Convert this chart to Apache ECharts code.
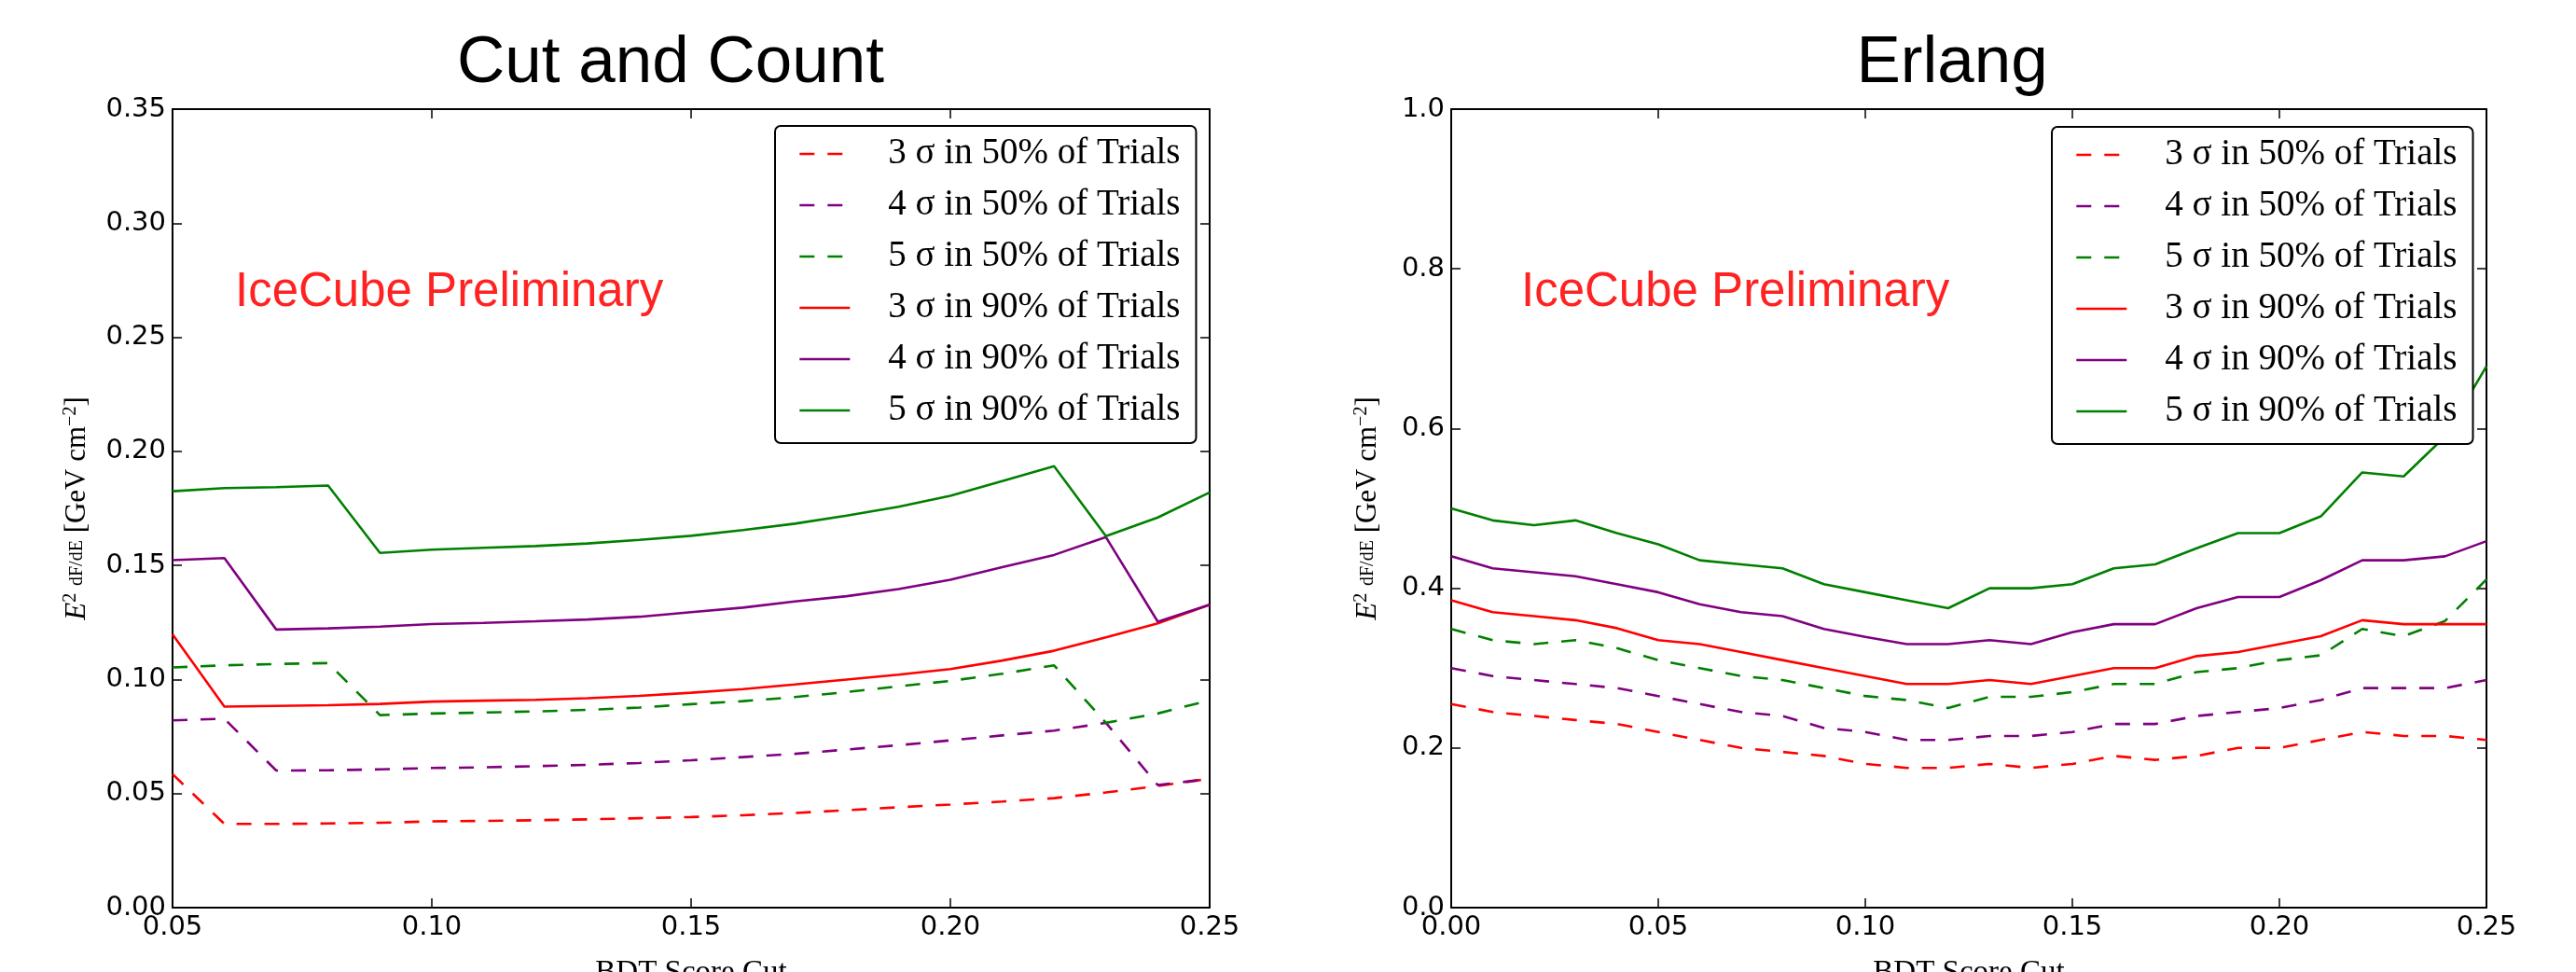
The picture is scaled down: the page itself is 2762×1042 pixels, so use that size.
<!DOCTYPE html>
<html>
<head>
<meta charset="utf-8">
<script src="https://cdn.jsdelivr.net/npm/echarts@6/dist/echarts.min.js"></script>
<style>
html,body{margin:0;padding:0;background:#fff;}
#c{width:2762px;height:1042px;}
</style>
</head>
<body>
<div id="c"></div>
<script>
// ---------- Data ----------
const seriesNames = [
  '3 σ in 50% of Trials',
  '4 σ in 50% of Trials',
  '5 σ in 50% of Trials',
  '3 σ in 90% of Trials',
  '4 σ in 90% of Trials',
  '5 σ in 90% of Trials'
];

// Cut and Count
const xCut = [0.05,0.06,0.07,0.08,0.09,0.10,0.11,0.12,0.13,0.14,0.15,0.16,0.17,0.18,0.19,0.20,0.21,0.22,0.23,0.24,0.25];
const cut3s50 = [0.0585,0.0367,0.0367,0.0369,0.0372,0.0378,0.0380,0.0383,0.0387,0.0392,0.0397,0.0405,0.0415,0.0427,0.0440,0.0452,0.0465,0.0480,0.0505,0.0533,0.0565];
const cut4s50 = [0.0821,0.0828,0.0601,0.0602,0.0606,0.0612,0.0615,0.0620,0.0626,0.0634,0.0646,0.0660,0.0674,0.0693,0.0712,0.0733,0.0755,0.0776,0.0810,0.0537,0.0565];
const cut5s50 = [0.1053,0.1062,0.1068,0.1072,0.0844,0.0851,0.0855,0.0860,0.0867,0.0877,0.0892,0.0905,0.0923,0.0945,0.0970,0.0994,0.1025,0.1062,0.0810,0.0851,0.0909];
const cut3s90 = [0.1198,0.0881,0.0884,0.0887,0.0893,0.0903,0.0907,0.0911,0.0918,0.0928,0.0942,0.0958,0.0978,0.1000,0.1021,0.1046,0.1083,0.1126,0.1185,0.1246,0.1328];
const cut4s90 = [0.1523,0.1532,0.1219,0.1224,0.1232,0.1243,0.1248,0.1255,0.1263,0.1275,0.1295,0.1315,0.1342,0.1365,0.1396,0.1437,0.1492,0.1546,0.1624,0.1253,0.1328];
const cut5s90 = [0.1825,0.1839,0.1843,0.1850,0.1555,0.1569,0.1577,0.1585,0.1596,0.1612,0.1630,0.1655,0.1683,0.1718,0.1757,0.1805,0.1870,0.1935,0.1628,0.1710,0.1820];

// Erlang
const xErl = [0.00,0.01,0.02,0.03,0.04,0.05,0.06,0.07,0.08,0.09,0.10,0.11,0.12,0.13,0.14,0.15,0.16,0.17,0.18,0.19,0.20,0.21,0.22,0.23,0.24,0.25];
const erl3s50 = [0.255,0.245,0.240,0.235,0.230,0.220,0.210,0.200,0.195,0.190,0.180,0.175,0.175,0.180,0.175,0.180,0.190,0.185,0.190,0.200,0.200,0.210,0.220,0.215,0.215,0.210];
const erl4s50 = [0.300,0.290,0.285,0.280,0.275,0.265,0.255,0.245,0.240,0.225,0.220,0.210,0.210,0.215,0.215,0.220,0.230,0.230,0.240,0.245,0.250,0.260,0.275,0.275,0.275,0.285];
const erl5s50 = [0.349,0.335,0.330,0.335,0.325,0.310,0.300,0.290,0.285,0.275,0.265,0.260,0.250,0.264,0.264,0.270,0.280,0.280,0.295,0.300,0.310,0.316,0.349,0.340,0.359,0.411];
const erl3s90 = [0.385,0.370,0.365,0.360,0.350,0.335,0.330,0.320,0.310,0.300,0.290,0.280,0.280,0.285,0.280,0.290,0.300,0.300,0.315,0.320,0.330,0.340,0.360,0.355,0.355,0.355];
const erl4s90 = [0.440,0.425,0.420,0.415,0.405,0.395,0.380,0.370,0.365,0.349,0.339,0.330,0.330,0.335,0.330,0.345,0.355,0.355,0.375,0.389,0.389,0.410,0.435,0.435,0.440,0.459];
const erl5s90 = [0.500,0.485,0.479,0.485,0.469,0.455,0.435,0.430,0.425,0.405,0.395,0.385,0.375,0.400,0.400,0.405,0.425,0.430,0.450,0.469,0.469,0.490,0.545,0.540,0.590,0.678];

const titles = ['Cut and Count', 'Erlang'];
const watermark = 'IceCube Preliminary';
const xAxisTitle = 'BDT Score Cut';

// ---------- Styles ----------
const colors = ['#ff0000', '#800080', '#008000', '#ff0000', '#800080', '#008000'];
const dashed = [true, true, true, false, false, false];
const DASH = [16, 14];
const tickFont = 'DejaVu Sans';
const serif = 'Liberation Serif';

const cutSets = [cut3s50, cut4s50, cut5s50, cut3s90, cut4s90, cut5s90];
const erlSets = [erl3s50, erl4s50, erl5s50, erl3s90, erl4s90, erl5s90];

const grids = [
  {left: 185, top: 117, width: 1112, height: 856, outerBoundsMode: 'none', containLabel: false},
  {left: 1556, top: 117, width: 1110, height: 856, outerBoundsMode: 'none', containLabel: false}
];

function mkX(gi, pos, min, max, interval, showLabel) {
  return {
    type: 'value', gridIndex: gi, position: pos, min: min, max: max, interval: interval,
    axisLine: {show: true, onZero: false, lineStyle: {color: '#000', width: 2}},
    axisTick: {show: true, inside: true, length: 10, lineStyle: {color: '#000', width: 1.5}},
    axisLabel: {show: showLabel, margin: 7, color: '#000', fontFamily: tickFont, fontSize: 29,
      formatter: v => v.toFixed(2), showMinLabel: true, showMaxLabel: true},
    splitLine: {show: false},
    name: showLabel ? xAxisTitle : '',
    nameLocation: 'middle', nameGap: 54,
    nameTextStyle: {fontFamily: serif, fontSize: 33, color: '#000', verticalAlign: 'top'}
  };
}
const yName = '{i|E}{s|2} {f|dF/dE} [GeV cm{s|−2}]';
const yRich = {
  i: {fontFamily: serif, fontStyle: 'italic', fontSize: 31, color: '#000'},
  s: {fontFamily: serif, fontSize: 20, color: '#000', verticalAlign: 'top', lineHeight: 34},
  f: {fontFamily: serif, fontSize: 20, color: '#000'}
};
function mkY(gi, pos, min, max, interval, digits, showLabel, gap) {
  return {
    type: 'value', gridIndex: gi, position: pos, min: min, max: max, interval: interval,
    axisLine: {show: true, onZero: false, lineStyle: {color: '#000', width: 2}},
    axisTick: {show: true, inside: true, length: 10, lineStyle: {color: '#000', width: 1.5}},
    axisLabel: {show: showLabel, margin: 7, color: '#000', fontFamily: tickFont, fontSize: 29,
      formatter: v => v.toFixed(digits), showMinLabel: true, showMaxLabel: true},
    splitLine: {show: false},
    name: showLabel ? yName : '',
    nameLocation: 'middle', nameRotate: 90, nameGap: gap,
    nameTextStyle: {fontFamily: serif, fontSize: 31, color: '#000', rich: yRich}
  };
}

const xAxes = [
  mkX(0, 'bottom', 0.05, 0.25, 0.05, true),
  mkX(0, 'top', 0.05, 0.25, 0.05, false),
  mkX(1, 'bottom', 0, 0.25, 0.05, true),
  mkX(1, 'top', 0, 0.25, 0.05, false)
];
const yAxes = [
  mkY(0, 'left', 0, 0.35, 0.05, 2, true, 85),
  mkY(0, 'right', 0, 0.35, 0.05, 2, false, 0),
  mkY(1, 'left', 0, 1.0, 0.2, 1, true, 72),
  mkY(1, 'right', 0, 1.0, 0.2, 1, false, 0)
];

const series = [];
[[xCut, cutSets, 0], [xErl, erlSets, 2]].forEach(([xs, sets, ai]) => {
  sets.forEach((vals, k) => {
    series.push({
      type: 'line', name: seriesNames[k], xAxisIndex: ai, yAxisIndex: ai,
      data: xs.map((x, j) => [x, vals[j]]),
      symbol: 'none', smooth: false, silent: true, animation: false,
      lineStyle: {color: colors[k], width: 2.6, type: dashed[k] ? DASH : 'solid'},
      itemStyle: {color: colors[k]}
    });
  });
});

function mkLegend(left, top) {
  return {
    left: left, top: top, orient: 'vertical', data: seriesNames,
    backgroundColor: '#fff', borderColor: '#000', borderWidth: 2, borderRadius: 6,
    padding: [8, 17, 13, 25], itemGap: 11, itemWidth: 54, itemHeight: 14,
    selectedMode: false,
    itemStyle: {opacity: 0, color: 'transparent', borderWidth: 0},
    lineStyle: {width: 2.6},
    textStyle: {fontFamily: serif, fontSize: 39, color: '#000', lineHeight: 44, padding: [0, 0, 0, 36]}
  };
}

const graphic = [
  {type: 'text', x: 719, y: 33, style: {text: titles[0], font: '71px "Liberation Sans", Arial, sans-serif', fill: '#000', align: 'center', verticalAlign: 'top'}},
  {type: 'text', x: 2093, y: 33, style: {text: titles[1], font: '71px "Liberation Sans", Arial, sans-serif', fill: '#000', align: 'center', verticalAlign: 'top'}},
  {type: 'text', x: 252, y: 288, z: 10, style: {text: watermark, font: '51px "Liberation Sans", Arial, sans-serif', fill: '#ff2222', align: 'left', verticalAlign: 'top'}},
  {type: 'text', x: 1631, y: 288, z: 10, style: {text: watermark, font: '51px "Liberation Sans", Arial, sans-serif', fill: '#ff2222', align: 'left', verticalAlign: 'top'}}
];

const chart = echarts.init(document.getElementById('c'), null, {renderer: 'canvas'});
chart.setOption({
  animation: false,
  backgroundColor: '#fff',
  grid: grids,
  xAxis: xAxes,
  yAxis: yAxes,
  legend: [mkLegend(831, 135), mkLegend(2200, 136)],
  graphic: graphic,
  series: series
});
</script>
</body>
</html>
